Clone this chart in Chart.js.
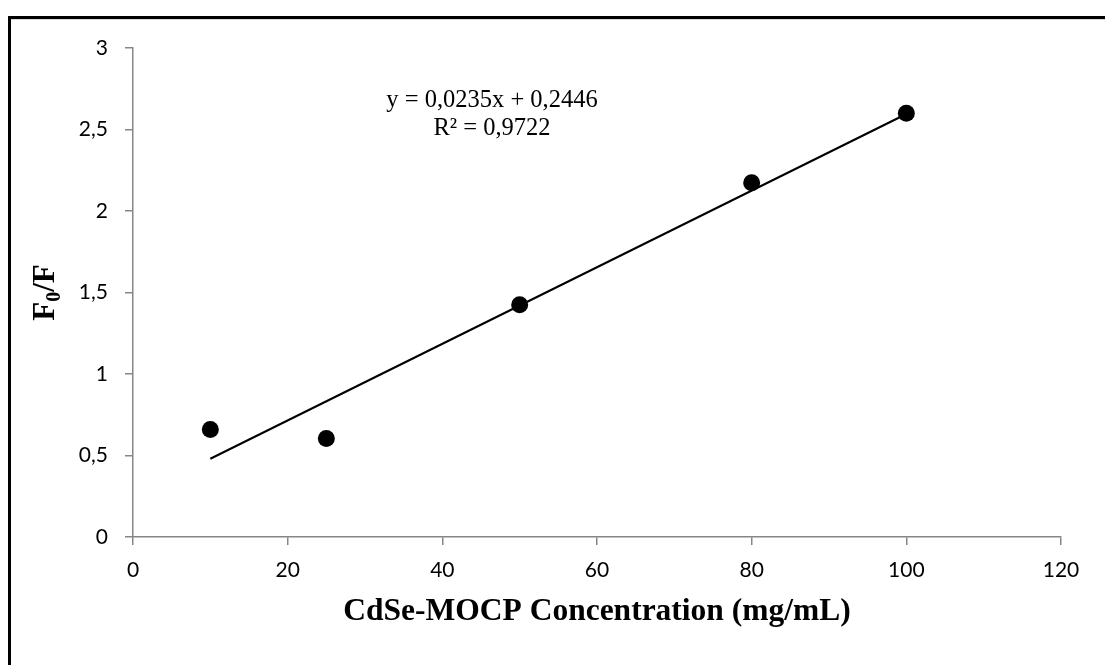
<!DOCTYPE html>
<html>
<head>
<meta charset="utf-8">
<script src="https://cdn.jsdelivr.net/npm/chart.js@4.4.1/dist/chart.umd.min.js"></script>
<style>
  html, body { margin: 0; padding: 0; background: #ffffff; }
  #wrap { width: 1105px; height: 665px; position: relative; }
</style>
</head>
<body>
<div id="wrap"><canvas id="c" width="1105" height="665"></canvas></div>
<script>
// ---- data ----
const concentration = [10, 25, 50, 80, 100];
const ratioF0F = [0.66, 0.604, 1.425, 2.173, 2.60];
const trendX = [10, 100];
const trendY = [0.48, 2.595];
const yTickLabels = ['0', '0,5', '1', '1,5', '2', '2,5', '3'];
const xTickLabels = ['0', '20', '40', '60', '80', '100', '120'];
const equationLines = ['y = 0,0235x + 0,2446', 'R² = 0,9722'];
const xTitle = 'CdSe-MOCP Concentration (mg/mL)';
const yTitleMain = 'F';
const yTitleSub = '0';
const yTitleRest = '/F';

const pointData = concentration.map((x, i) => ({ x: x, y: ratioF0F[i] }));
const trendData = trendX.map((x, i) => ({ x: x, y: trendY[i] }));

const axisGrey = '#868686';
const tickFont = { family: 'Lato', size: 21 };

const decor = {
  id: 'decor',
  afterDraw(chart) {
    const ctx = chart.ctx;
    const area = chart.chartArea;
    ctx.save();
    // outer frame (left + top visible)
    ctx.fillStyle = '#000';
    ctx.fillRect(8, 16, 1105 - 8, 3);
    ctx.fillRect(8, 16, 3, 665 - 16);
    ctx.fillStyle = '#d9d9d9';
    ctx.fillRect(11, 19, 1105 - 11, 1);

    // x title
    ctx.fillStyle = '#000';
    ctx.font = 'bold 31.5px "Liberation Serif"';
    ctx.textAlign = 'center';
    ctx.textBaseline = 'middle';
    ctx.fillText(xTitle, (area.left + area.right) / 2, 612);

    // y title with subscript
    ctx.save();
    ctx.translate(45, (area.top + area.bottom) / 2);
    ctx.rotate(-Math.PI / 2);
    const mainFont = 'bold 31px "Liberation Serif"';
    const subFont = 'bold 20px "Liberation Serif"';
    ctx.font = mainFont;
    const w1 = ctx.measureText(yTitleMain).width;
    const w3 = ctx.measureText(yTitleRest).width;
    ctx.font = subFont;
    const w2 = ctx.measureText(yTitleSub).width;
    const total = w1 + w2 + w3;
    let x0 = -total / 2;
    ctx.textAlign = 'left';
    ctx.textBaseline = 'alphabetic';
    ctx.font = mainFont;
    ctx.fillText(yTitleMain, x0, 9);
    ctx.font = subFont;
    ctx.fillText(yTitleSub, x0 + w1, 15);
    ctx.font = mainFont;
    ctx.fillText(yTitleRest, x0 + w1 + w2, 9);
    ctx.restore();

    // equation
    ctx.font = '24.5px "Liberation Serif"';
    ctx.textAlign = 'center';
    ctx.textBaseline = 'middle';
    ctx.fillText(equationLines[0], 492, 101);
    ctx.fillText(equationLines[1], 492, 129);
    ctx.restore();
  }
};

new Chart(document.getElementById('c'), {
  type: 'scatter',
  data: {
    datasets: [
      {
        label: 'Trend',
        data: trendData,
        showLine: true,
        borderColor: '#000',
        borderWidth: 2,
        pointRadius: 0,
        fill: false,
        order: 2
      },
      {
        label: 'F0/F',
        data: pointData,
        backgroundColor: '#000',
        borderColor: '#000',
        pointRadius: 8.5,
        pointBorderWidth: 0,
        order: 1
      }
    ]
  },
  options: {
    responsive: false,
    animation: false,
    devicePixelRatio: 1,
    layout: { padding: { left: 0, top: 48, right: 44, bottom: 0 } },
    plugins: { legend: { display: false }, tooltip: { enabled: false } },
    scales: {
      x: {
        type: 'linear',
        min: 0, max: 120,
        afterFit(scale) { scale.height = 128; },
        ticks: {
          stepSize: 20,
          color: '#000',
          font: tickFont,
          padding: 13,
          maxRotation: 0,
          callback: (v, i) => xTickLabels[i]
        },
        grid: { display: true, drawOnChartArea: false, drawTicks: true, tickLength: 8, color: axisGrey, lineWidth: 1.5 },
        border: { display: true, color: axisGrey, width: 1.5 }
      },
      y: {
        type: 'linear',
        min: 0, max: 3,
        afterFit(scale) { scale.width = 133; },
        ticks: {
          stepSize: 0.5,
          color: '#000',
          font: tickFont,
          padding: 17,
          callback: (v, i) => yTickLabels[i]
        },
        grid: { display: true, drawOnChartArea: false, drawTicks: true, tickLength: 8, color: axisGrey, lineWidth: 1.5 },
        border: { display: true, color: axisGrey, width: 1.5 }
      }
    }
  },
  plugins: [decor]
});
</script>
</body>
</html>
